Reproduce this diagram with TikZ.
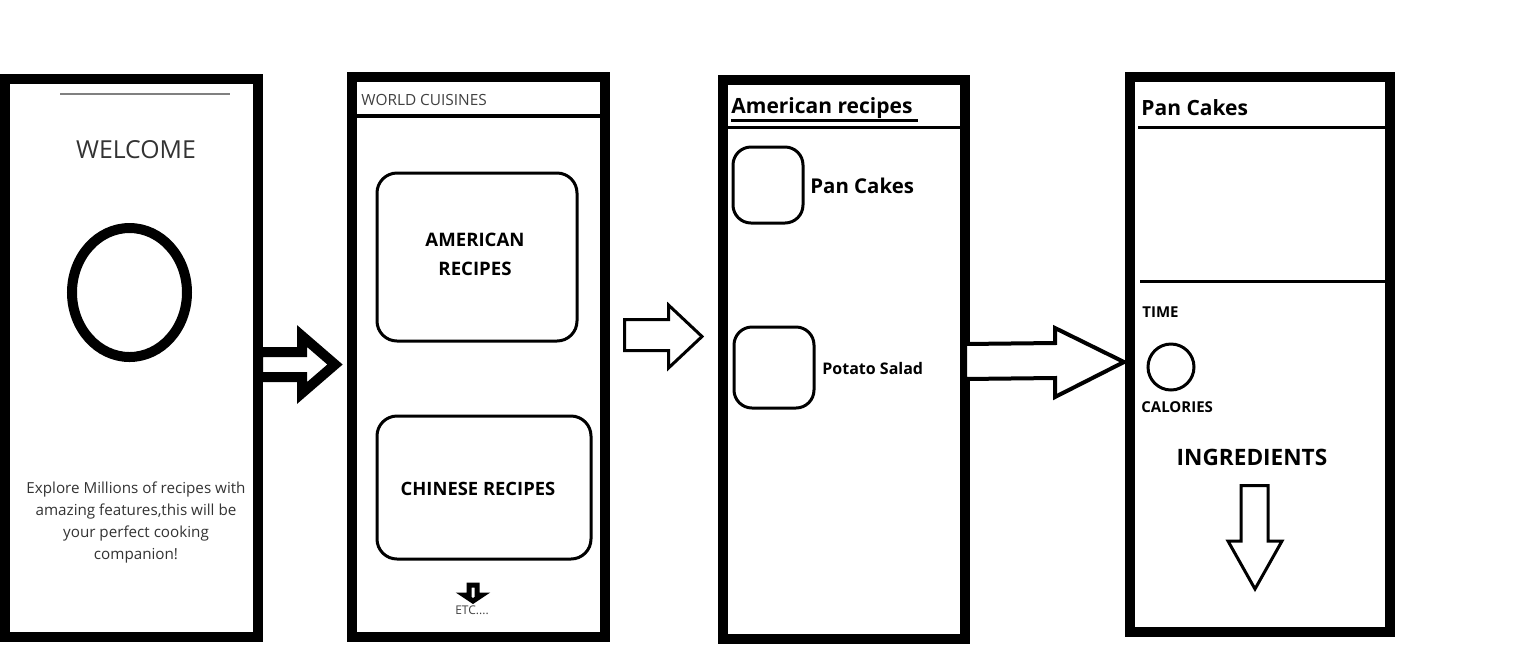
\documentclass[tikz,border=0pt]{standalone}
\usepackage{fontspec}
\setmainfont{Open Sans}
\usetikzlibrary{shapes.geometric}
\newcommand{\fsz}[2]{\fontsize{#1}{#2}\selectfont}
\begin{document}
\begin{tikzpicture}[
    x=0.5pt, y=-0.5pt,
    screen/.style ={
        draw=black,
        line width=5pt,
        line join=miter
    },
    card/.style ={
        draw=black,
        line width=1.5pt,
        rounded corners=10pt
    },
    bar/.style ={
        draw=black,
        line width=1.5pt
    },
    blockarrow/.style ={
        draw=black,
        fill=white,
        line join=miter
    },
    lbl/.style ={
        inner sep=0pt,
        font=\bfseries
    }
    ]
    \useasboundingbox (0,0) rectangle (1523,645);

    % phone screens
    \foreach \nw/ \se in {{(4.5,78.5)/(258,637)}, {(352,77)/(605,637)}, {(722.5,79.5)/(965,639)}, {(1130,77)/(1390,632)}}
        \draw[screen] \nw rectangle \se;

    % welcome screen
    \draw[gray, line width=0.6pt] (60,94) -- (230,94);
    \node[inner sep=0pt, text=black!80, font=\fsz{12.4}{15}] (welcome) at (136,150) {WELCOME};
    \node[draw, ellipse, line width=5pt, inner sep=0pt, minimum width=57.5pt, minimum height=64.5pt] (logo) at (129.5,292.5) {};
    \node[inner sep=0pt, align=center, text=black!80, font=\fsz{7.6}{11}] (intro) at (136,522)
        {Explore Millions of recipes with\\amazing features,this will be\\your perfect cooking\\companion!};

    % cuisines screen
    \draw[bar, line width=2pt] (357,115.5) -- (600,115.5);
    \node[anchor=west, inner sep=0pt, text=black!75, font=\fsz{7.7}{9}] (world) at (361,100) {WORLD CUISINES};
    \draw[card] (377,173) rectangle (577,341);
    \node[lbl, align=center, font=\bfseries\fsz{9.3}{14.5}] (american) at (475,254) {AMERICAN\\RECIPES};
    \draw[card] (377,416) rectangle (591,559);
    \node[lbl, font=\bfseries\fsz{9.2}{11}] (chinese) at (478,489) {CHINESE RECIPES};
    \draw[blockarrow, line width=2.5pt] (469,585) -- (477,585) -- (477,595) -- (482,595) -- (473,601) -- (464,595) -- (469,595) -- cycle;
    \node[inner sep=0pt, text=black!75, font=\fsz{6}{7}] (etc) at (472,610) {ETC....};

    % american recipes screen
    \node[lbl, anchor=base west, font=\bfseries\fsz{10.5}{12}] (amtitle) at (731,113) {American recipes};
    \draw[line width=1.5pt] (731,120) -- (918,120);
    \draw[bar] (728,127) -- (960,127);
    \draw[card, rounded corners=9pt] (733,147) rectangle (803,223);
    \node[lbl, anchor=west, font=\bfseries\fsz{10.2}{12}] (pancakes) at (810,186) {Pan Cakes};
    \draw[card, rounded corners=9pt] (734,327) rectangle (814,408);
    \node[lbl, anchor=west, font=\bfseries\fsz{8}{10}] (potato) at (822,368) {Potato Salad};

    % recipe screen
    \node[lbl, anchor=base west, font=\bfseries\fsz{10.5}{12}] (pctitle) at (1141,115) {Pan Cakes};
    \draw[bar] (1138,127) -- (1385,127);
    \draw[bar] (1140,281) -- (1385,281);
    \node[lbl, anchor=west, font=\bfseries\fsz{7.5}{9}] (time) at (1142,312) {TIME};
    \node[draw, circle, line width=1.5pt, inner sep=0pt, minimum size=23pt] (clock) at (1171,367) {};
    \node[lbl, anchor=west, font=\bfseries\fsz{7.5}{9}] (calories) at (1141,407) {CALORIES};
    \node[lbl, font=\bfseries\fsz{11.3}{13}] (ingredients) at (1252,457) {INGREDIENTS};
    \draw[blockarrow, line width=1.5pt] (1241,485.5) -- (1268,485.5) -- (1268,541) -- (1282,541) -- (1255,589) -- (1228,541) -- (1241,541) -- cycle;

    % arrows between screens
    \draw[blockarrow, line width=5pt] (258,352) -- (302,352) -- (302,336) -- (335,364.5) -- (302,393) -- (302,377) -- (258,377) -- cycle;
    \draw[blockarrow, line width=1.5pt] (624.5,319.5) -- (668.5,319.5) -- (668.5,305) -- (702,336.5) -- (668.5,368) -- (668.5,350.5) -- (624.5,350.5) -- cycle;
    \draw[blockarrow, line width=2pt] (965,344) -- (1055,343) -- (1055,328) -- (1124,362) -- (1055,397) -- (1055,378) -- (965,379) -- cycle;

\end{tikzpicture}
\end{document}
